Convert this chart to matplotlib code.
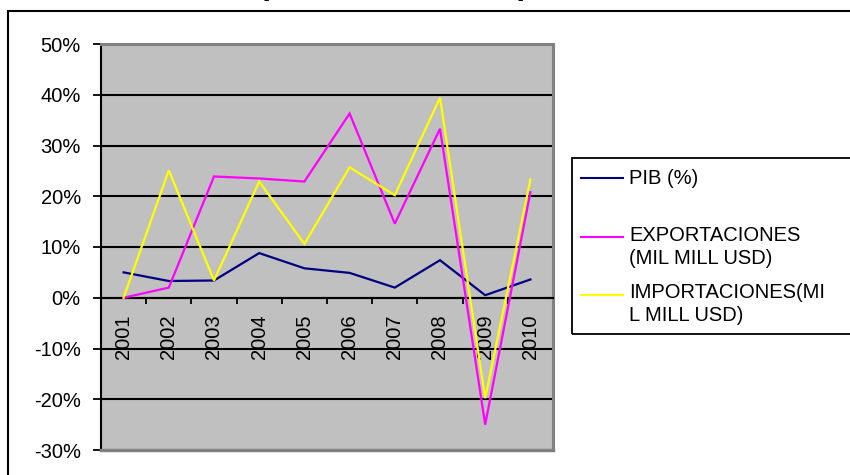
import matplotlib
matplotlib.use("Agg")
import matplotlib.pyplot as plt
from matplotlib.patches import Rectangle
from matplotlib.lines import Line2D

plt.rcParams['font.family'] = ['Liberation Sans', 'DejaVu Sans']

# ---- data (annual growth, %) ----
years = ["2001", "2002", "2003", "2004", "2005", "2006", "2007", "2008", "2009", "2010"]
pib = [5.0, 3.3, 3.4, 8.8, 5.8, 4.9, 2.0, 7.4, 0.5, 3.6]
exportaciones = [0.0, 2.0, 23.9, 23.5, 22.9, 36.3, 14.6, 33.3, -25.0, 20.8]
importaciones = [0.0, 25.1, 3.4, 22.9, 10.6, 25.7, 20.2, 39.4, -19.8, 23.3]

series_names = ["PIB (%)", "EXPORTACIONES\n(MIL MILL USD)", "IMPORTACIONES(MI\nL MILL USD)"]
series_colors = ["#000080", "#FF00FF", "#FFFF00"]
y_ticks = [-30, -20, -10, 0, 10, 20, 30, 40, 50]
y_tick_labels = ["-30%", "-20%", "-10%", "0%", "10%", "20%", "30%", "40%", "50%"]
title = "PIB, Exportaciones e Importaciones"

W, H = 850, 475
fig = plt.figure(figsize=(W / 100, H / 100), dpi=100)
fig.patch.set_facecolor("white")


def fx(px):
    return px / W


def fy(py):
    return 1 - py / H


# outer chart frame (runs off the right and bottom edges)
fig.add_artist(Rectangle((fx(7.5), -0.2), 2.0, fy(10.5) + 0.2, transform=fig.transFigure,
                         fill=False, edgecolor="black", linewidth=1.5))

# large bold title, sitting above the top edge of the canvas
fig.text(0.5, fy(-6), title, ha="center", va="baseline", fontsize=23, fontweight="bold")

# plot area
ax = fig.add_axes([fx(101), fy(450), (553 - 101) / W, (450 - 44) / H])
ax.set_facecolor("#C0C0C0")
x = list(range(1, len(years) + 1))
ax.set_xlim(0.5, len(years) + 0.5)
ax.set_ylim(-30, 50)

# horizontal gridlines
for v in y_ticks[1:-1]:
    ax.axhline(v, color="black", linewidth=1.5, zorder=1)

for vals, col in zip([pib, exportaciones, importaciones], series_colors):
    ax.plot(x, vals, color=col, linewidth=1.6, zorder=3, solid_joinstyle="miter")

# spines
ax.spines["left"].set_color("black")
ax.spines["left"].set_linewidth(1.5)
for s in ("top", "right"):
    ax.spines[s].set_color("#808080")
    ax.spines[s].set_linewidth(2.2)
ax.spines["bottom"].set_position(("data", 0))
ax.spines["bottom"].set_color("black")
ax.spines["bottom"].set_linewidth(1.5)
ax.axhline(-30, color="#808080", linewidth=2.5, clip_on=False, zorder=4)

# y axis
ax.set_yticks(y_ticks)
ax.set_yticklabels(y_tick_labels, fontsize=14.5)
ax.tick_params(axis="y", direction="out", length=6, width=1.3, pad=8.5, color="black")

# x axis: category labels below the zero line, ticks between categories
ax.set_xticks(x)
ax.set_xticklabels(years, rotation=90, fontsize=14.5, va="top", ha="center")
ax.set_xticks([i + 0.5 for i in range(1, len(years) + 1)], minor=True)
ax.tick_params(axis="x", which="major", length=0, pad=12)
ax.tick_params(axis="x", which="minor", direction="out", length=4.5, width=1.3, color="black")

# legend box (runs off the right edge)
fig.add_artist(Rectangle((fx(572), fy(334)), fx(900) - fx(572), fy(158) - fy(334),
                         transform=fig.transFigure, fill=False, edgecolor="black", linewidth=1.3))
line_y = [178, 237, 295]
text_top = [169, 226, 283]
for name, col, ly, ty in zip(series_names, series_colors, line_y, text_top):
    fig.add_artist(Line2D([fx(581), fx(623)], [fy(ly), fy(ly)], transform=fig.transFigure,
                          color=col, linewidth=1.5))
    fig.text(fx(629), fy(ty), name, ha="left", va="top", fontsize=14.5, linespacing=1.25)

fig.savefig("out.png", dpi=100)
